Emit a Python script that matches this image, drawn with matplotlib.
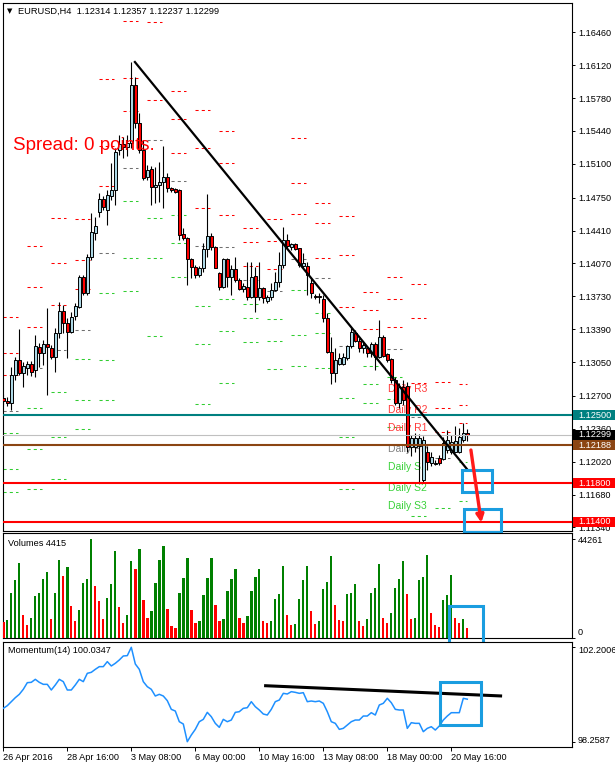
import numpy as np
import matplotlib
matplotlib.use('Agg')
import matplotlib.pyplot as plt
import matplotlib.transforms as mtransforms
from matplotlib.patches import Rectangle

# ---------------- data (EURUSD H4, 26 Apr - 23 May 2016) ----------------
symbol_title = "EURUSD,H4  1.12314 1.12357 1.12237 1.12299"

opens = [1.12679, 1.12648, 1.12627, 1.12917, 1.13072, 1.12937, 1.12989, 1.13030, 1.12968, 1.13206,
         1.13144, 1.13237, 1.13196, 1.13103, 1.13351, 1.13578, 1.13454, 1.13361, 1.13527, 1.13620,
         1.13930, 1.13764, 1.14137, 1.14385, 1.14602, 1.14736, 1.14623, 1.14767, 1.14829, 1.15243,
         1.15305, 1.15274, 1.15315, 1.15915, 1.15522, 1.15243, 1.14964, 1.15047, 1.14860, 1.14881,
         1.14912, 1.14964, 1.14850, 1.14840, 1.14829, 1.14374, 1.14333, 1.14116, 1.14033, 1.13951,
         1.14023, 1.14219, 1.14354, 1.14240, 1.13971, 1.13826, 1.14116, 1.13930, 1.14013, 1.13899,
         1.13806, 1.13826, 1.13723, 1.13940, 1.13723, 1.13816, 1.13682, 1.13723, 1.13795, 1.13878,
         1.14054, 1.14312, 1.14240, 1.14271, 1.14230, 1.14044, 1.14044, 1.13868, 1.13733, 1.13733,
         1.13702, 1.13506, 1.13154, 1.12937, 1.13030, 1.13030, 1.13092, 1.13216, 1.13351, 1.13268,
         1.13196, 1.13196, 1.13144, 1.13237, 1.13103, 1.13309, 1.13134, 1.13082, 1.12865, 1.12627,
         1.12792, 1.12803, 1.12172, 1.12172, 1.12182, 1.11831, 1.12120, 1.12007, 1.11997, 1.12058,
         1.12048, 1.12141, 1.12120, 1.12120, 1.12120, 1.12244, 1.12314]
highs = [1.12720, 1.12689, 1.12999, 1.13103, 1.13392, 1.13051, 1.13061, 1.13061, 1.13330, 1.13247,
         1.13278, 1.13609, 1.13227, 1.13403, 1.13671, 1.13640, 1.13506, 1.13568, 1.13661, 1.13951,
         1.13951, 1.14168, 1.14592, 1.14550, 1.14798, 1.14767, 1.14829, 1.15109, 1.15264, 1.15398,
         1.15377, 1.15398, 1.16153, 1.15998, 1.15626, 1.15346, 1.15088, 1.15078, 1.15067, 1.15119,
         1.15284, 1.15005, 1.14860, 1.14850, 1.14840, 1.14437, 1.14343, 1.14126, 1.14054, 1.14044,
         1.14281, 1.14788, 1.14385, 1.14250, 1.13982, 1.14126, 1.14126, 1.14054, 1.14137, 1.13920,
         1.13868, 1.14085, 1.14085, 1.14033, 1.14085, 1.13826, 1.13744, 1.13868, 1.13982, 1.14188,
         1.14447, 1.14374, 1.14281, 1.14281, 1.14230, 1.14178, 1.14085, 1.13920, 1.13754, 1.13764,
         1.13744, 1.13558, 1.13309, 1.13196, 1.13144, 1.13144, 1.13227, 1.13403, 1.13382, 1.13299,
         1.13258, 1.13216, 1.13258, 1.13258, 1.13485, 1.13330, 1.13144, 1.13092, 1.12896, 1.12834,
         1.12865, 1.12844, 1.12296, 1.12317, 1.12306, 1.12286, 1.12182, 1.12120, 1.12038, 1.12089,
         1.12275, 1.12348, 1.12296, 1.12389, 1.12369, 1.12420, 1.12357]
lows = [1.12606, 1.12596, 1.12555, 1.12865, 1.12917, 1.12792, 1.12917, 1.12906, 1.12896, 1.12999,
        1.13020, 1.12710, 1.13082, 1.12948, 1.13299, 1.13351, 1.13092, 1.13351, 1.13485, 1.13609,
        1.13744, 1.13744, 1.14106, 1.14312, 1.14550, 1.14623, 1.14468, 1.14726, 1.14674, 1.15191,
        1.15160, 1.15181, 1.15264, 1.15471, 1.15212, 1.14933, 1.14933, 1.14674, 1.14695, 1.14705,
        1.14643, 1.14809, 1.14809, 1.14798, 1.14312, 1.14312, 1.13847, 1.13920, 1.13920, 1.13930,
        1.13982, 1.14137, 1.14209, 1.14023, 1.13795, 1.13816, 1.13826, 1.13744, 1.13878, 1.13795,
        1.13775, 1.13692, 1.13713, 1.13568, 1.13692, 1.13661, 1.13661, 1.13692, 1.13785, 1.13826,
        1.14023, 1.14230, 1.14209, 1.14209, 1.14033, 1.14023, 1.13744, 1.13713, 1.13702, 1.13661,
        1.13465, 1.13144, 1.12823, 1.12844, 1.13020, 1.13020, 1.13072, 1.13196, 1.13258, 1.13154,
        1.13144, 1.13103, 1.13103, 1.12968, 1.13092, 1.13103, 1.13051, 1.12834, 1.12606, 1.12575,
        1.12606, 1.12120, 1.12079, 1.12120, 1.11810, 1.11800, 1.11934, 1.11976, 1.11986, 1.11986,
        1.12038, 1.12110, 1.12100, 1.12120, 1.12110, 1.12224, 1.12237]
closes = [1.12648, 1.12627, 1.12917, 1.13072, 1.12937, 1.13010, 1.13030, 1.12948, 1.13216, 1.13144,
          1.13237, 1.13206, 1.13103, 1.13351, 1.13578, 1.13454, 1.13361, 1.13516, 1.13630, 1.13930,
          1.13764, 1.14137, 1.14395, 1.14457, 1.14736, 1.14654, 1.14778, 1.14829, 1.15222, 1.15305,
          1.15274, 1.15315, 1.15915, 1.15522, 1.15243, 1.14953, 1.15036, 1.14860, 1.14881, 1.14912,
          1.14964, 1.14850, 1.14829, 1.14809, 1.14364, 1.14333, 1.14116, 1.14033, 1.13951, 1.14023,
          1.14219, 1.14354, 1.14240, 1.14023, 1.13826, 1.14116, 1.13930, 1.14013, 1.13899, 1.13806,
          1.13837, 1.13723, 1.13930, 1.13723, 1.13816, 1.13713, 1.13723, 1.13795, 1.13878, 1.14054,
          1.14312, 1.14250, 1.14271, 1.14219, 1.14054, 1.14075, 1.13951, 1.13764, 1.13723, 1.13723,
          1.13506, 1.13154, 1.12937, 1.13072, 1.13092, 1.13103, 1.13216, 1.13361, 1.13268, 1.13196,
          1.13227, 1.13144, 1.13237, 1.13103, 1.13309, 1.13113, 1.13072, 1.12865, 1.12627, 1.12792,
          1.12658, 1.12172, 1.12265, 1.12265, 1.12265, 1.12244, 1.12017, 1.12069, 1.12007, 1.12007,
          1.12213, 1.12244, 1.12224, 1.12234, 1.12275, 1.12317, 1.12299]
volumes = [7180, 8220, 20180, 25860, 33640, 10170, 6130, 8970, 18690, 20180,
           26310, 29450, 8820, 20180, 34830, 27810, 31690, 14200, 7630, 12410,
           24670, 26610, 44261, 23170, 16600, 8820, 17790, 24220, 38870, 13900,
           7030, 10170, 34390, 30800, 39770, 16890, 9270, 11960, 24520, 34830,
           41260, 12860, 5680, 4780, 20180, 26910, 35730, 12410, 7030, 7630,
           19140, 26910, 35730, 14800, 7920, 8820, 20930, 26310, 30800, 9270,
           7030, 9720, 20930, 27210, 30800, 7920, 7030, 7920, 17340, 19880,
           32140, 10320, 6130, 6580, 17340, 25860, 32140, 11960, 6580, 7920,
           21830, 24970, 36630, 14650, 8370, 7920, 19590, 20030, 24070, 7630,
           5680, 8820, 20180, 22280, 33190, 9270, 6730, 11060, 22280, 26310,
           34390, 19590, 8820, 9120, 25860, 27210, 37230, 11060, 6130, 5230,
           16890, 19140, 28110, 9270, 7030, 8820, 4415]
momentum = [99.652, 99.763, 99.930, 100.097, 100.237, 100.446, 100.724, 100.738, 100.863, 100.738,
            100.654, 100.654, 100.418, 100.627, 100.863, 100.766, 100.418, 100.418, 100.627, 100.863,
            100.766, 101.114, 101.156, 101.281, 101.393, 101.393, 101.602, 101.421, 101.532, 101.671,
            101.838, 101.852, 102.2006, 101.504, 101.281, 100.766, 100.557, 100.446, 100.167, 100.237,
            100.167, 99.972, 99.610, 99.540, 99.094, 98.997, 98.2587, 98.537, 98.774, 99.094,
            99.192, 99.484, 99.303, 99.025, 98.858, 99.192, 99.094, 99.164, 99.484, 99.512,
            99.652, 99.679, 99.930, 99.721, 99.582, 99.415, 99.373, 99.610, 99.930, 100.000,
            100.278, 100.251, 100.348, 100.320, 100.278, 100.306, 99.930, 99.958, 99.930, 99.958,
            99.861, 99.512, 99.094, 99.025, 98.774, 98.816, 98.955, 99.094, 99.164, 99.164,
            99.331, 99.331, 99.470, 99.373, 99.791, 99.861, 100.070, 99.888, 99.610, 99.582,
            99.582, 98.816, 99.053, 99.025, 99.025, 98.677, 98.816, 98.885, 98.746, 98.913,
            99.164, 99.331, 99.470, 99.470, 99.470, 100.070, 100.0347]

prev_day_hlc = [1.12775, 1.12172, 1.12686]          # 25 Apr daily high, low, close
bars_per_day = 6
pivot_names = ["Daily R3", "Daily R2", "Daily R1", "Daily PP", "Daily S1", "Daily S2", "Daily S3"]

price_ticks = [1.16460, 1.16120, 1.15780, 1.15440, 1.15100, 1.14750, 1.14410, 1.14070,
               1.13730, 1.13390, 1.13050, 1.12700, 1.12360, 1.12020, 1.11680, 1.11340]
date_tick_bars = [0, 16, 32, 48, 64, 80, 96, 112]
date_tick_labels = ["26 Apr 2016", "28 Apr 16:00", "3 May 08:00", "6 May 00:00",
                    "10 May 16:00", "13 May 08:00", "18 May 00:00", "20 May 16:00"]

level_prices = [1.12500, 1.12188, 1.11800, 1.11400]
level_colors = ["#008080", "#8b4513", "#ff0000", "#ff0000"]
bid_price = 1.12299

trend_bars = [32.9, 115.9]
trend_prices = [1.16153, 1.11945]
mom_trend_bars = [65.2, 124.7]
mom_trend_vals = [100.599, 100.167]

vol_scale_max = 44261
mom_scale_max = 102.2006
mom_scale_min = 98.2587

# annotation shapes (bar index / value coordinates)
main_boxes = [(114.75, 122.25, 1.11710, 1.11934), (115.2, 124.35, 1.11296, 1.11528)]
vol_box = (111.4, 119.9, -3400, 14400)
mom_box = (109.2, 119.4, 98.956, 100.764)
arrow_start = (116.9, 1.12141)
arrow_end = (119.5, 1.11390)

# ---------------- figure ----------------
W, H = 615, 768
plt.rcParams['font.family'] = ['Liberation Sans', 'DejaVu Sans']
fig = plt.figure(figsize=(W / 100, H / 100), dpi=100)
fig.patch.set_facecolor('white')

def fx(px):
    return px / W

def fy(py):
    return 1 - py / H

LEFT, RIGHT = 2.7, 571.7
def add_panel(top, bottom):
    return fig.add_axes([fx(LEFT), fy(bottom), fx(RIGHT) - fx(LEFT), (bottom - top) / H])

ax = add_panel(2.7, 531.0)
axv = add_panel(533.0, 638.3)
axm = add_panel(641.5, 747.3)

XMIN, XMAX = -0.15, 142.1
for a in (ax, axv, axm):
    a.set_xlim(XMIN, XMAX)
    for s in a.spines.values():
        s.set_linewidth(0.8)
        s.set_color('black')
    a.set_facecolor('white')

FS = 6.6
O = np.array(opens); Hh = np.array(highs); Ll = np.array(lows); C = np.array(closes)
n = len(O)
x = np.arange(n)

# ---- main price panel ----
ax.set_ylim(1.113037, 1.167663)

RES, PPC, SUP = '#ff0000', '#707070', '#32cd32'
piv_all = []
for k, s in enumerate(range(0, n, bars_per_day)):
    if k == 0:
        h, l, c = prev_day_hlc
    else:
        h = Hh[s - bars_per_day:s].max(); l = Ll[s - bars_per_day:s].min(); c = C[s - 1]
    pp = (h + l + c) / 3
    lv = [h + 2 * (pp - l), pp + (h - l), 2 * pp - l, pp, 2 * pp - h, pp - (h - l), l - 2 * (h - pp)]
    piv_all.append(lv)
    x0, x1 = s, min(s + 3.75, n - 1)
    for j, v in enumerate(lv):
        col = RES if j < 3 else (PPC if j == 3 else SUP)
        ax.plot([x0, x1], [v, v], color=col, lw=0.75, ls=(0, (3, 3)), zorder=2,
                dash_capstyle='butt')

label_bar = 96.2
label_cols = ['#ff3a3a'] * 3 + ['#808080'] + ['#3ad23a'] * 3
for nm, v, col in zip(pivot_names, piv_all[-1], label_cols):
    ax.text(label_bar, v, nm, color=col, fontsize=7.5, va='top', ha='left', zorder=2.5)

# candles
up = C >= O
ax.vlines(x, Ll, Hh, color='black', lw=0.8, zorder=3.9)
ax.bar(x, np.abs(C - O), width=0.75, bottom=np.minimum(O, C),
       color=np.where(up, '#add8e6', '#ff0000'), edgecolor='black', linewidth=0.7, zorder=4)

for p, col in zip(level_prices, level_colors):
    ax.axhline(p, color=col, lw=1.5, zorder=5)
ax.axhline(bid_price, color='#c0c0c0', lw=0.8, zorder=4.5)

ax.plot(trend_bars, trend_prices, color='black', lw=1.6, zorder=6)

for (b0, b1, p0, p1) in main_boxes:
    ax.add_patch(Rectangle((b0, p0), b1 - b0, p1 - p0, fill=False, ec='#1a9de0', lw=2.2,
                           zorder=8, clip_on=False))
ax.annotate('', xy=arrow_end, xytext=arrow_start,
            arrowprops=dict(arrowstyle='-|>', color='#ff1a1a', lw=2.4, mutation_scale=11,
                            shrinkA=0, shrinkB=0), zorder=9, annotation_clip=False)

ax.yaxis.tick_right()
ax.set_yticks(price_ticks)
ax.set_yticklabels([f'{t:.5f}' for t in price_ticks])
ax.tick_params(axis='y', length=2.5, width=0.7, pad=2.3, labelsize=FS, direction='out')
ax.set_xticks([])

# price boxes on the right scale
ylo, yhi = ax.get_ylim()
px_price = (yhi - ylo) / (531.0 - 2.7)
blend = mtransforms.blended_transform_factory(fig.transFigure, ax.transData)
tags = [(level_prices[0], level_colors[0]), (bid_price, '#000000'), (level_prices[1], level_colors[1]),
        (level_prices[2], level_colors[2]), (level_prices[3], level_colors[3])]
for p, col in tags:
    r = Rectangle((fx(573), p - 5 * px_price), fx(615) - fx(573), 10 * px_price,
                  transform=blend, fc=col, ec='none', zorder=10, clip_on=False)
    ax.add_artist(r)
    ax.text(fx(578), p, f'{p:.5f}', transform=blend, color='white', fontsize=FS,
            va='center', ha='left', zorder=11, clip_on=False)

# ---- volumes ----
vcol = ['#ff0000'] + ['#008000' if volumes[i] > volumes[i - 1] else '#ff0000' for i in range(1, n)]
axv.bar(x, volumes, width=0.6, color=vcol, zorder=3)
axv.set_ylim(0, vol_scale_max * 1.0604)
axv.set_xticks([])
axv.yaxis.tick_right()
axv.set_yticks([0, vol_scale_max])
axv.set_yticklabels([])
axv.tick_params(axis='y', length=2.5, width=0.7, direction='out')
axv.add_patch(Rectangle((vol_box[0], vol_box[2]), vol_box[1] - vol_box[0], vol_box[3] - vol_box[2],
                        fill=False, ec='#1a9de0', lw=2.2, zorder=8, clip_on=False))
axv.annotate(f'{vol_scale_max}', xy=(1, vol_scale_max), xycoords=('axes fraction', 'data'),
             xytext=(6.3, -1.7), textcoords='offset pixels', fontsize=FS, va='center', ha='left',
             annotation_clip=False)
axv.annotate('0', xy=(1, 0), xycoords=('axes fraction', 'data'),
             xytext=(6.3, 6.0), textcoords='offset pixels', fontsize=FS, va='center', ha='left',
             annotation_clip=False)

# ---- momentum ----
axm.plot(x, momentum, color='#1e90ff', lw=1.1, zorder=3)
axm.plot(mom_trend_bars, mom_trend_vals, color='black', lw=2.2, zorder=4, solid_capstyle='butt')
axm.set_ylim(98.0249, 102.4428)
axm.yaxis.tick_right()
axm.set_yticks([mom_scale_min, mom_scale_max])
axm.set_yticklabels([])
axm.tick_params(axis='y', length=2.5, width=0.7, direction='out')
axm.add_patch(Rectangle((mom_box[0], mom_box[2]), mom_box[1] - mom_box[0], mom_box[3] - mom_box[2],
                        fill=False, ec='#1a9de0', lw=2.2, zorder=8, clip_on=False))
axm.annotate(f'{mom_scale_max:.4f}', xy=(1, mom_scale_max), xycoords=('axes fraction', 'data'),
             xytext=(6.3, -3.4), textcoords='offset pixels', fontsize=FS, va='center', ha='left',
             annotation_clip=False)
axm.annotate(f'{mom_scale_min:.4f}', xy=(1, mom_scale_min), xycoords=('axes fraction', 'data'),
             xytext=(6.3, 1.7), textcoords='offset pixels', fontsize=FS, va='center', ha='left',
             annotation_clip=False)
axm.set_xticks(date_tick_bars)
axm.set_xticklabels(date_tick_labels)
axm.tick_params(axis='x', length=3, width=0.7, pad=0.8, labelsize=FS, direction='out')
for lbl in axm.get_xticklabels():
    lbl.set_ha('left')

# ---- header texts ----
fig.text(fx(6.5), fy(11), '\u25bc', fontsize=5, family='DejaVu Sans', va='center', ha='left')
fig.text(fx(18), fy(11), symbol_title, fontsize=6.7, va='center', ha='left')
fig.text(fx(13), fy(145), 'Spread: 0 points.', fontsize=13.5, color='#ff0000',
         va='center', ha='left', zorder=20)
fig.text(fx(8), fy(543), f'Volumes {volumes[-1]}', fontsize=FS, va='center', ha='left')
fig.text(fx(8), fy(650.7), f'Momentum(14) {momentum[-1]:.4f}', fontsize=FS, va='center', ha='left')

fig.savefig('out.png', dpi=100, facecolor='white')
